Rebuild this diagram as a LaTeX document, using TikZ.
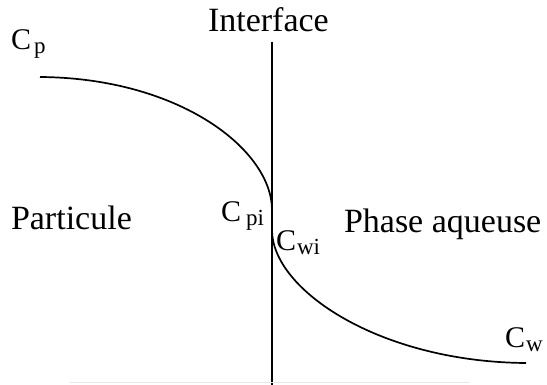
\documentclass[tikz,border=0pt]{standalone}
\usepackage{fontspec}
\setmainfont{Liberation Serif}
\newcommand{\bigtxt}{\fontsize{34}{34}\selectfont}
\newcommand{\ctxt}{\fontsize{30}{30}\selectfont}
\newcommand{\subtxt}{\fontsize{23}{23}\selectfont}
\begin{document}
\begin{tikzpicture}[x=1pt,y=-1pt,
  lbl/.style={anchor=base west,inner sep=0pt,outer sep=0pt},
  curve/.style={line width=1.7pt},
  axis/.style={line width=1.6pt}]
\useasboundingbox (0,0) rectangle (547,385);
% interface line
\coordinate (itop) at (272,42);
\coordinate (ibot) at (272,385);
\draw[axis] (itop) -- (ibot);
% faint bottom line
\coordinate (fl) at (70,382);
\coordinate (fr) at (470,382);
\draw[gray!18,line width=1pt] (fl) -- (fr);
% concentration profile
\coordinate (p0) at (40,77);
\coordinate (pi) at (272,210);
\coordinate (wi) at (272,230);
\coordinate (w0) at (526,363);
\draw[curve] (p0) .. controls (180,78) and (272,150) .. (pi) -- (wi)
  .. controls (272,290) and (380,362) .. (w0);
% labels
\node[lbl] (interface) at (208,32) {\bigtxt Interface};
\node[lbl] (particule) at (11,230) {\bigtxt Particule};
\node[lbl] (phase) at (344,233) {\bigtxt Phase aqueuse};
\node[lbl] (cp) at (11,50) {\ctxt C\hspace{3pt}\raisebox{-4pt}{\subtxt p}};
\node[lbl] (cpi) at (221,222) {\ctxt C\hspace{5pt}\raisebox{-4pt}{\subtxt pi}};
\node[lbl] (cwi) at (276,251) {\ctxt C\hspace{1pt}\raisebox{-4pt}{\subtxt wi}};
\node[lbl] (cw) at (505,347) {\ctxt C\hspace{1pt}\raisebox{-4pt}{\subtxt w}};
\end{tikzpicture}
\end{document}
